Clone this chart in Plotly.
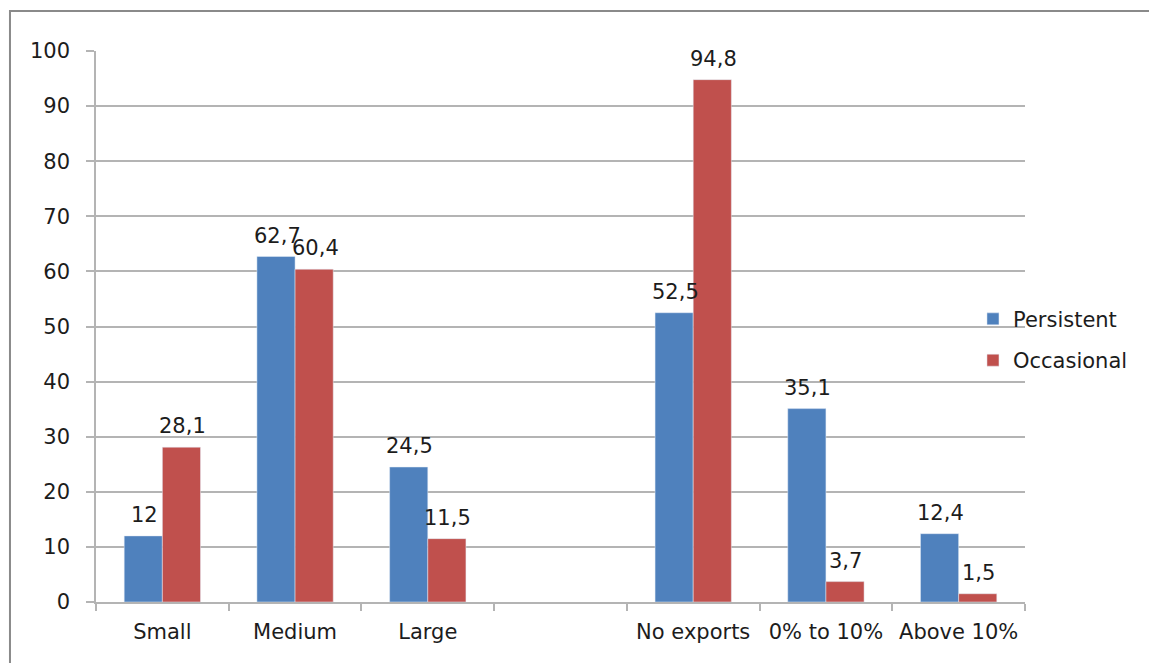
import plotly.graph_objects as go

# Firm size groups and export-intensity groups, separated by an empty slot
categories = ["Small", "Medium", "Large", " ", "No exports", "0% to 10%", "Above 10%"]
persistent = [12, 62.7, 24.5, None, 52.5, 35.1, 12.4]
occasional = [28.1, 60.4, 11.5, None, 94.8, 3.7, 1.5]
y_ticks = list(range(0, 101, 10))

BLUE = "#4F81BD"
RED = "#C0504D"
GRID = "#b4b4b4"
TEXT = "#1c1c1c"
FONT = "DejaVu Sans"


def fmt(v):
    # decimal comma, integers without a fractional part
    if v is None:
        return ""
    return (f"{v:g}").replace(".", ",")


fig = go.Figure()
fig.add_trace(go.Bar(name="Persistent", x=categories, y=persistent,
                     marker=dict(color=BLUE), legendgroup="p"))
fig.add_trace(go.Bar(name="Occasional", x=categories, y=occasional,
                     marker=dict(color=RED), legendgroup="o"))

# value labels above each bar
for series, shift in ((persistent, -18), (occasional, 20)):
    for cat, v in zip(categories, series):
        if v is None:
            continue
        fig.add_annotation(x=cat, y=v, text=fmt(v), showarrow=False,
                           xshift=shift, yshift=21, yanchor="middle",
                           font=dict(family=FONT, size=21, color=TEXT))

# outer chart frame
fig.add_shape(type="rect", xref="paper", yref="paper",
              x0=-0.0926, x1=1.14, y0=-0.14, y1=1.0726,
              line=dict(color="#8a8a8a", width=2), layer="above")

fig.update_layout(
    width=1149, height=663,
    margin=dict(l=96, r=124, t=51, b=61),
    paper_bgcolor="white", plot_bgcolor="white",
    barmode="group", bargap=0.425, bargroupgap=0,
    font=dict(family=FONT, size=21, color=TEXT),
    showlegend=True,
    legend=dict(x=0.944, xanchor="left", y=0.476, yanchor="middle",
                bgcolor="rgba(0,0,0,0)", tracegroupgap=11,
                font=dict(family=FONT, size=21, color=TEXT)),
    xaxis=dict(type="category", categoryorder="array", categoryarray=categories,
               showline=True, linecolor=GRID, linewidth=1.5,
               ticks="outside", tickson="boundaries", ticklen=7,
               tickcolor=GRID, tickwidth=1.5, showgrid=False,
               ticklabelstandoff=10, automargin=False,
               tickfont=dict(family=FONT, size=21, color=TEXT)),
    yaxis=dict(range=[0, 100], tickvals=y_ticks, showline=True,
               linecolor=GRID, linewidth=1.5, ticks="outside", ticklen=8,
               tickcolor=GRID, tickwidth=1.5, gridcolor=GRID, gridwidth=1.5,
               zeroline=False, ticklabelstandoff=12, automargin=False,
               tickfont=dict(family=FONT, size=21, color=TEXT)),
)

fig.write_html("out.html")
